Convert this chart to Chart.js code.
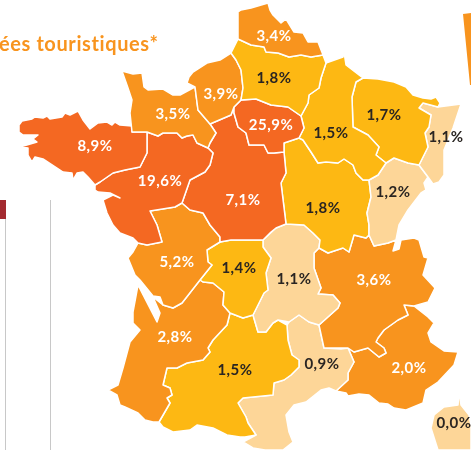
<!DOCTYPE html>
<html>
<head>
<meta charset="utf-8">
<title>Nuitées touristiques</title>
<script src="https://cdn.jsdelivr.net/npm/chart.js@4"></script>
<style>
  html, body { margin: 0; padding: 0; background: #fff; overflow: hidden; }
  canvas { display: block; }
</style>
</head>
<body>
<canvas id="mapChart" width="471" height="450"></canvas>
<script>
const titleText = 'ées touristiques*';

const regionNames = ['Nord-Pas-de-Calais', 'Picardie', 'Haute-Normandie', 'Basse-Normandie', 'Île-de-France', 'Bretagne',
  'Pays de la Loire', 'Centre', 'Champagne-Ardenne', 'Lorraine', 'Alsace', 'Franche-Comté', 'Bourgogne', 'Poitou-Charentes',
  'Limousin', 'Auvergne', 'Rhône-Alpes', 'Aquitaine', 'Midi-Pyrénées', 'Languedoc-Roussillon', 'PACA', 'Corse'];
const regionShares = [3.4, 1.8, 3.9, 3.5, 25.9, 8.9, 19.6, 7.1, 1.5, 1.7, 1.1, 1.2, 1.8, 5.2, 1.4, 1.1, 3.6, 2.8, 1.5, 0.9, 2.0, 0.0];

// outlines, in map units
const nordOutline = [[238,12],[241,10],[251,8],[268,3],[270,10],[273,15],[281,23],[286,19],[294,32],[303,33],[308,42],[318,42],[323,55],[311,57],[301,55],[289,57],[278,53],[266,52],[264,47],[251,45],[238,39],[238,28]];
const picardieOutline = [[231,53],[238,39],[251,45],[264,47],[266,52],[278,53],[289,57],[301,55],[311,57],[323,55],[326,63],[321,78],[319,88],[309,95],[308,103],[301,116],[288,107],[271,105],[256,99],[241,100],[243,88],[241,70],[236,60]];
const hauteNormandieOutline = [[187,83],[189,77],[193,72],[207,63],[220,60],[231,53],[236,60],[241,70],[243,88],[241,100],[234,107],[231,115],[210,124],[198,110],[195,87]];
const basseNormandieOutline = [[122,71],[133,74],[142,73],[144,87],[148,90],[163,89],[173,95],[180,95],[193,88],[195,87],[198,110],[210,124],[216,133],[210,143],[208,148],[197,143],[193,135],[187,136],[182,138],[177,133],[163,133],[158,136],[147,132],[137,132],[132,132],[130,113],[132,100],[128,88]];
const idfOutline = [[234,107],[241,100],[256,99],[271,105],[288,107],[301,116],[304,128],[299,138],[284,143],[284,152],[274,153],[268,153],[264,145],[249,145],[246,133],[238,127],[234,113]];
const bretagneOutline = [[19,125],[22,121],[32,119],[35,117],[43,118],[47,116],[50,119],[62,117],[65,113],[70,115],[78,111],[83,120],[90,129],[98,123],[107,122],[112,125],[115,122],[120,125],[132,126],[137,124],[133,128],[132,132],[137,132],[147,132],[147,153],[140,167],[125,170],[113,173],[100,182],[95,185],[88,177],[83,172],[77,173],[73,180],[72,173],[63,172],[57,168],[43,159],[35,157],[32,162],[28,155],[28,148],[20,147],[37,142],[33,139],[38,135],[23,135],[19,132]];
const loireOutline = [[147,132],[158,136],[163,133],[177,133],[182,138],[187,136],[193,135],[197,143],[208,148],[213,153],[210,165],[205,172],[190,180],[182,203],[175,207],[150,211],[157,225],[162,242],[147,245],[138,243],[133,238],[120,233],[113,225],[107,213],[103,200],[113,195],[120,198],[110,193],[98,192],[95,190],[95,185],[100,182],[113,173],[125,170],[140,167],[147,153]];
const centreOutline = [[210,124],[231,115],[234,107],[234,113],[238,127],[246,133],[249,145],[264,145],[268,153],[274,153],[284,152],[286,173],[281,183],[286,224],[276,228],[271,232],[263,240],[248,240],[231,240],[220,242],[220,237],[210,225],[203,213],[190,210],[182,203],[190,180],[205,172],[210,165],[213,153],[208,148],[210,143],[216,133]];
const champagneOutline = [[344,52],[346,65],[359,75],[363,78],[356,82],[352,97],[353,127],[368,135],[379,147],[376,155],[386,163],[378,175],[369,180],[363,180],[356,173],[353,165],[344,159],[338,163],[326,162],[318,163],[311,152],[303,140],[299,138],[304,128],[301,116],[308,103],[309,95],[319,88],[321,78],[326,63],[343,57]];
const lorraineOutline = [[363,78],[378,79],[394,82],[406,87],[413,95],[423,98],[431,99],[436,97],[440,103],[438,107],[423,103],[419,108],[431,115],[429,127],[425,133],[428,147],[419,165],[408,163],[394,158],[386,163],[376,155],[379,147],[368,135],[353,127],[352,97],[356,82]];
const alsaceOutline = [[423,103],[438,107],[461,104],[453,128],[444,150],[444,175],[439,182],[433,184],[428,177],[419,165],[428,147],[425,133],[429,127],[431,115],[419,108]];
const comteOutline = [[386,163],[394,158],[408,163],[419,165],[428,177],[424,183],[426,190],[421,193],[408,210],[399,225],[396,240],[388,243],[374,246],[369,235],[369,225],[367,213],[371,197],[369,180],[378,175]];
const bourgogneOutline = [[299,138],[303,140],[311,152],[318,163],[326,162],[338,163],[344,159],[353,165],[356,173],[363,180],[369,180],[371,197],[367,213],[369,225],[369,235],[366,238],[354,235],[349,252],[343,248],[328,253],[319,248],[320,240],[313,233],[304,225],[286,224],[281,183],[286,173],[284,152],[284,143]];
const poitouOutline = [[150,211],[175,207],[182,203],[190,210],[203,213],[210,225],[220,237],[220,242],[207,250],[208,262],[212,265],[200,280],[182,303],[173,308],[163,305],[160,297],[153,296],[140,280],[135,275],[128,258],[133,252],[138,243],[147,245],[162,242],[157,225]];
const limousinOutline = [[220,242],[231,240],[248,240],[263,240],[263,247],[271,258],[266,273],[268,290],[264,293],[253,315],[243,318],[230,313],[223,305],[224,292],[213,283],[203,282],[200,280],[212,265],[208,262],[207,250]];
const auvergneOutline = [[263,240],[276,228],[286,224],[304,225],[313,233],[320,240],[319,248],[314,253],[314,268],[321,288],[318,294],[333,295],[340,303],[338,308],[319,325],[309,322],[299,315],[289,322],[278,320],[273,323],[266,332],[258,332],[253,315],[264,293],[268,290],[266,273],[271,258],[263,247]];
const rhoneOutline = [[314,253],[319,248],[328,253],[343,248],[349,252],[354,235],[366,238],[369,235],[374,246],[388,243],[396,240],[393,251],[399,249],[401,240],[414,238],[419,240],[424,257],[428,258],[423,275],[435,288],[428,302],[414,306],[404,305],[408,315],[398,320],[384,330],[378,338],[376,342],[384,348],[386,353],[379,357],[368,348],[354,352],[348,348],[324,348],[319,325],[338,308],[340,303],[333,295],[318,294],[321,288],[314,268]];
const aquitaineOutline = [[200,280],[203,282],[213,283],[224,292],[223,305],[230,313],[227,325],[213,340],[208,348],[210,352],[203,360],[187,363],[177,368],[167,368],[163,385],[170,388],[172,395],[167,398],[170,403],[159,422],[153,422],[145,420],[138,413],[125,407],[120,405],[117,395],[108,390],[118,385],[123,368],[130,342],[140,330],[133,323],[133,312],[138,285],[157,322],[160,313],[153,297],[163,305],[173,308],[182,303]];
const midiOutline = [[167,368],[177,368],[187,363],[203,360],[210,352],[208,348],[213,340],[227,325],[230,313],[243,318],[253,315],[258,332],[266,332],[273,323],[278,320],[287,325],[288,340],[292,355],[299,360],[299,367],[291,375],[284,380],[274,383],[273,395],[243,398],[238,403],[246,417],[248,423],[256,435],[245,437],[240,437],[227,435],[213,428],[197,425],[190,430],[173,432],[163,427],[159,422],[170,403],[167,398],[172,395],[170,388],[163,385]];
const languedocOutline = [[289,322],[299,315],[309,322],[319,325],[324,348],[341,349],[348,348],[354,362],[348,373],[348,380],[336,391],[329,388],[321,390],[306,402],[294,405],[286,415],[289,432],[293,442],[283,450],[265,450],[253,448],[243,442],[256,435],[248,423],[246,417],[238,403],[243,398],[273,395],[274,383],[284,380],[291,375],[299,367],[299,360],[292,355],[288,340],[287,325]];
const pacaOutline = [[348,348],[354,352],[368,348],[379,357],[386,353],[384,348],[376,342],[378,338],[384,330],[398,320],[408,315],[404,305],[414,306],[428,317],[434,323],[428,333],[431,342],[444,351],[458,352],[454,365],[438,382],[426,390],[423,403],[406,410],[394,408],[388,404],[379,403],[369,395],[359,394],[348,396],[346,393],[336,391],[348,380],[348,373],[354,362]];
const corseOutline = [[434,415],[444,407],[458,405],[459,392],[461,405],[469,415],[471,425],[471,450],[438,450],[431,428]];

const regionOutlines = [nordOutline, picardieOutline, hauteNormandieOutline, basseNormandieOutline, idfOutline, bretagneOutline,
  loireOutline, centreOutline, champagneOutline, lorraineOutline, alsaceOutline, comteOutline, bourgogneOutline, poitouOutline,
  limousinOutline, auvergneOutline, rhoneOutline, aquitaineOutline, midiOutline, languedocOutline, pacaOutline, corseOutline];
const labelAnchors = [[274,36],[274,78],[221,94],[173,114],[271,125],[95,146],[160,181],[243,200],[331,133],[384,115],[446,137],[393,192],[323,208],[177,262],[239,268],[294,279],[374,280],[175,337],[235,370],[322,364],[409,368],[454,423]];

// page furniture around the map
const redTab = [[0,200],[6,200],[6,219],[0,219]];
const ruleLeft = [[5.5,219],[5.5,450]];
const ruleRight = [[50.5,200],[50.5,450]];
const cornerShape = [[463,14],[471,13],[471,85],[470,85]];

function shareColor(v) {
  if (v >= 7) return '#f46822';
  if (v >= 2) return '#f8941e';
  if (v > 1.2) return '#fdb813';
  return '#fdd698';
}

function toPoints(outline) {
  return outline.map(p => ({ x: p[0], y: p[1] }));
}

function closed(outline) {
  return toPoints(outline.concat([outline[0]]));
}

const regionSets = regionOutlines.map((outline, i) => ({
  label: regionNames[i],
  data: closed(outline),
  showLine: true,
  fill: 'shape',
  backgroundColor: shareColor(regionShares[i]),
  borderColor: '#ffffff',
  borderWidth: 1.5,
  borderJoinStyle: 'round',
  pointRadius: 0,
  tension: 0
}));

const extraSets = [
  { label: 'tab', data: closed(redTab), showLine: true, fill: 'shape', backgroundColor: '#a32a30', borderWidth: 0, pointRadius: 0 },
  { label: 'rule', data: toPoints(ruleLeft), showLine: true, borderColor: '#c8c8c8', borderWidth: 1, pointRadius: 0 },
  { label: 'rule', data: toPoints(ruleRight), showLine: true, borderColor: '#c8c8c8', borderWidth: 1, pointRadius: 0 },
  { label: 'corner', data: closed(cornerShape), showLine: true, fill: 'shape', backgroundColor: '#f8941e', borderWidth: 0, pointRadius: 0 }
];

const mapLabels = {
  id: 'mapLabels',
  afterDatasetsDraw(chart) {
    const { ctx, scales } = chart;
    ctx.save();
    ctx.textBaseline = 'middle';
    ctx.textAlign = 'center';
    ctx.letterSpacing = '0.5px';
    ctx.font = 'bold 15px Lato';
    regionShares.forEach((v, i) => {
      const text = v.toFixed(1).replace('.', ',') + '%';
      ctx.fillStyle = (v >= 2) ? '#ffffff' : '#2a2522';
      ctx.fillText(text, scales.x.getPixelForValue(labelAnchors[i][0]), scales.y.getPixelForValue(labelAnchors[i][1]));
    });
    // cut-off heading, top left
    ctx.textAlign = 'left';
    ctx.textBaseline = 'alphabetic';
    ctx.letterSpacing = '0.6px';
    ctx.font = 'bold 20px Lato';
    ctx.fillStyle = '#f8941e';
    ctx.fillText(titleText, scales.x.getPixelForValue(-1), scales.y.getPixelForValue(51));
    ctx.restore();
  }
};

new Chart(document.getElementById('mapChart').getContext('2d'), {
  type: 'scatter',
  data: { datasets: regionSets.concat(extraSets) },
  options: {
    responsive: false,
    animation: false,
    layout: { padding: 0 },
    plugins: { legend: { display: false }, title: { display: false }, tooltip: { enabled: false } },
    scales: {
      x: { type: 'linear', min: 0, max: 471, display: false },
      y: { type: 'linear', min: 0, max: 450, reverse: true, display: false }
    }
  },
  plugins: [mapLabels]
});
</script>
</body>
</html>
